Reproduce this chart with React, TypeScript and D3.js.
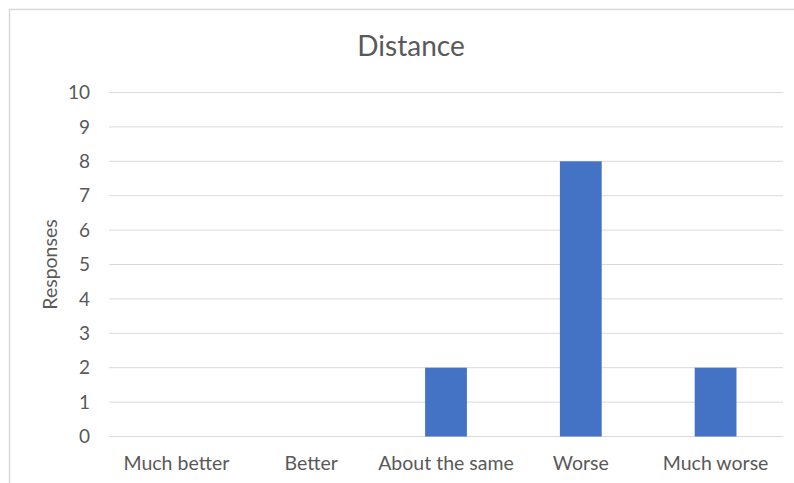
import { useEffect, useRef } from "react";
import * as d3 from "d3";

const categories = ["Much better", "Better", "About the same", "Worse", "Much worse"];
const responses = [0, 0, 2, 8, 2];
const yTicks = [0, 1, 2, 3, 4, 5, 6, 7, 8, 9, 10];

const W = 794;
const H = 483;
const FONT = "Lato, 'Open Sans', sans-serif";

export default function App() {
  const svgRef = useRef<SVGSVGElement>(null);

  useEffect(() => {
    if (!svgRef.current) return;
    const svg = d3.select(svgRef.current);
    svg.selectAll("*").remove();

    const left = 109;
    const right = 783;
    const top = 92.5;
    const bottom = 436.5;

    const x = d3.scaleBand<string>()
      .domain(categories)
      .range([left, right])
      .paddingInner(0.69)
      .paddingOuter(0.345);
    const y = d3.scaleLinear().domain([0, 10]).range([bottom, top]);

    // chart frame
    svg.append("rect")
      .attr("x", 9.5).attr("y", 9.5)
      .attr("width", W + 20).attr("height", H + 20)
      .attr("fill", "#fff")
      .attr("stroke", "#d9d9d9")
      .attr("stroke-width", 1.5);

    // gridlines
    svg.append("g")
      .selectAll("line")
      .data(yTicks)
      .join("line")
      .attr("x1", left).attr("x2", right)
      .attr("y1", (d) => y(d)).attr("y2", (d) => y(d))
      .attr("stroke", "#d9d9d9")
      .attr("stroke-width", 1);

    // y tick labels
    svg.append("g")
      .selectAll("text")
      .data(yTicks)
      .join("text")
      .attr("x", 90)
      .attr("y", (d) => y(d))
      .attr("dy", "0.35em")
      .attr("text-anchor", "end")
      .style("font-family", FONT)
      .style("font-size", "19px")
      .style("fill", "#595959")
      .text((d) => d);

    // bars
    svg.append("g")
      .selectAll("rect")
      .data(responses)
      .join("rect")
      .attr("x", (_, i) => x(categories[i]) ?? 0)
      .attr("width", x.bandwidth())
      .attr("y", (d) => y(d))
      .attr("height", (d) => y(0) - y(d))
      .attr("fill", "#4472c4");

    // category labels
    svg.append("g")
      .selectAll("text")
      .data(categories)
      .join("text")
      .attr("x", (d) => (x(d) ?? 0) + x.bandwidth() / 2)
      .attr("y", 470)
      .attr("text-anchor", "middle")
      .style("font-family", FONT)
      .style("font-size", "19.5px")
      .style("fill", "#595959")
      .text((d) => d);

    // axis title
    svg.append("text")
      .attr("transform", `translate(57, ${(top + bottom) / 2}) rotate(-90)`)
      .attr("text-anchor", "middle")
      .style("font-family", FONT)
      .style("font-size", "19.5px")
      .style("fill", "#595959")
      .text("Responses");

    // chart title
    svg.append("text")
      .attr("x", 411)
      .attr("y", 56)
      .attr("text-anchor", "middle")
      .style("font-family", FONT)
      .style("font-size", "28px")
      .style("fill", "#595959")
      .text("Distance");
  }, []);

  return (
    <svg
      ref={svgRef}
      width={W}
      height={H}
      style={{ position: "absolute", left: 0, top: 0, background: "#fff" }}
    />
  );
}
